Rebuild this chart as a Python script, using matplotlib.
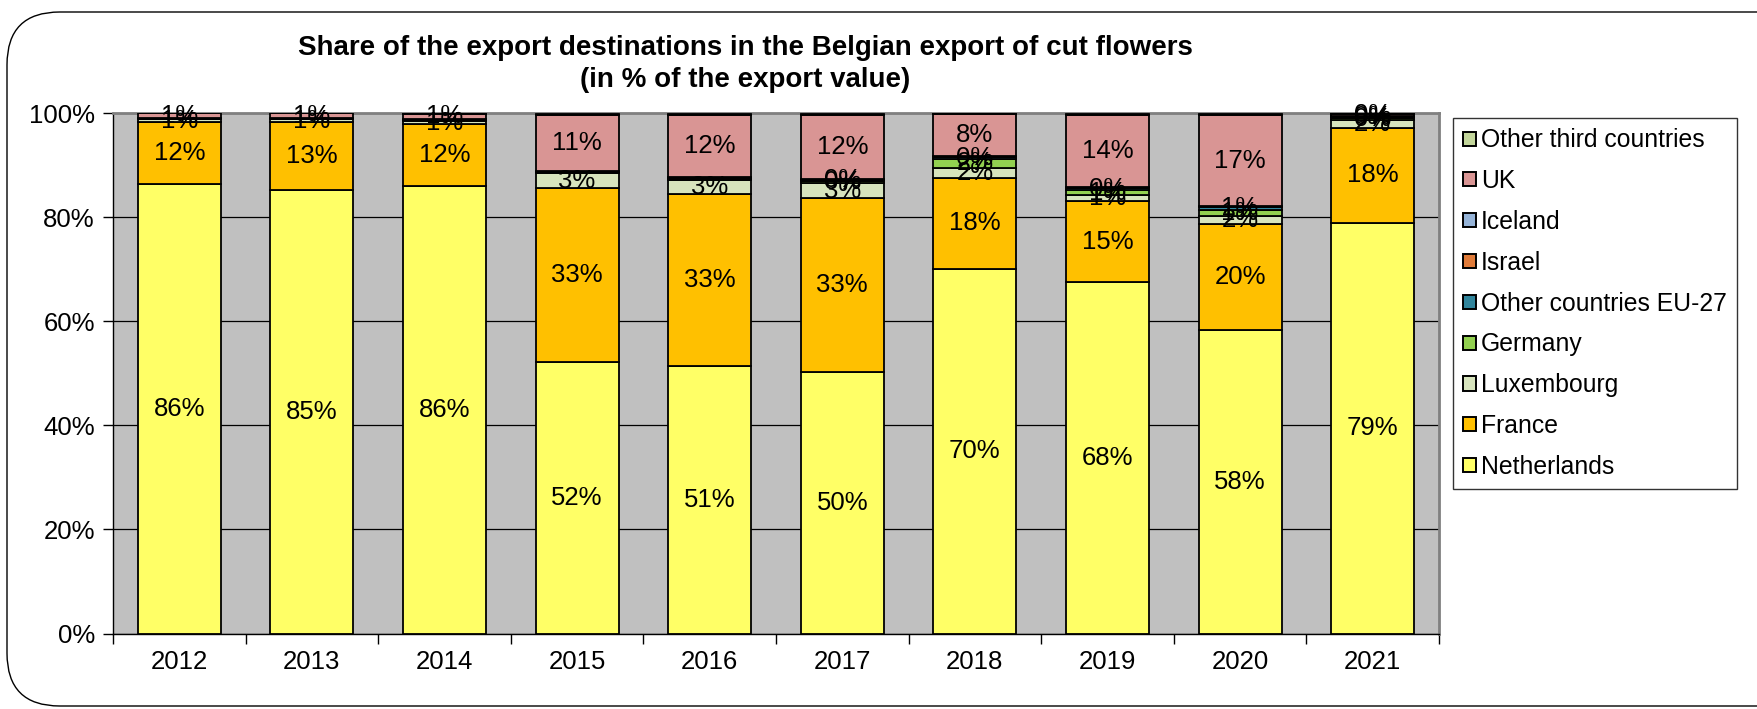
import numpy as np
import matplotlib
matplotlib.use("Agg")
import matplotlib.pyplot as plt
from matplotlib.patches import FancyBboxPatch

plt.rcParams["font.family"] = ["Liberation Sans", "DejaVu Sans"]

# shares in % of export value
years = ["2012", "2013", "2014", "2015", "2016", "2017", "2018", "2019", "2020", "2021"]
netherlands = [86.3, 85.3, 85.9, 52.2, 51.4, 50.3, 70.0, 67.6, 58.4, 78.9]
france = [11.9, 12.9, 11.9, 33.4, 33.0, 33.4, 17.6, 15.4, 20.2, 18.3]
luxembourg = [0.6, 0.6, 0.6, 2.8, 2.7, 2.8, 1.9, 1.2, 1.7, 1.5]
germany = [0.1, 0.1, 0.2, 0.2, 0.2, 0.4, 1.6, 1.0, 1.1, 0.3]
other_eu = [0.1, 0.1, 0.2, 0.2, 0.2, 0.3, 0.4, 0.4, 0.6, 0.3]
israel = [0.05, 0.05, 0.1, 0.1, 0.1, 0.1, 0.1, 0.1, 0.1, 0.1]
iceland = [0.0, 0.0, 0.0, 0.05, 0.05, 0.05, 0.05, 0.05, 0.05, 0.05]
uk = [0.9, 0.9, 1.0, 10.7, 12.0, 12.2, 8.1, 13.9, 17.4, 0.35]
other_third = [0.1, 0.1, 0.1, 0.2, 0.2, 0.2, 0.2, 0.2, 0.2, 0.2]

series = [
    ("Netherlands", netherlands, "#FFFF66"),
    ("France", france, "#FFC000"),
    ("Luxembourg", luxembourg, "#D7E4BD"),
    ("Germany", germany, "#92D050"),
    ("Other countries EU-27", other_eu, "#31859C"),
    ("Israel", israel, "#E07B39"),
    ("Iceland", iceland, "#95B3D7"),
    ("UK", uk, "#D99594"),
    ("Other third countries", other_third, "#C3D69B"),
]

W, H = 1758, 709
fig = plt.figure(figsize=(W / 100, H / 100), dpi=100)

# rounded frame around the whole chart (behind everything)
frame = FancyBboxPatch((7 / W, 3 / H), 1.2, 694 / H,
                       boxstyle="round,pad=0,rounding_size=0.03",
                       transform=fig.transFigure, facecolor="none",
                       edgecolor="black", linewidth=1.0, mutation_aspect=W / H,
                       zorder=-10)
fig.patches.append(frame)

ax = fig.add_axes([113 / W, 1 - 633.5 / H, 1326 / W, 520.5 / H])
ax.set_facecolor("#C0C0C0")

x = np.arange(len(years))
bottom = np.zeros(len(years))
handles = []
for name, vals, color in series:
    vals = np.array(vals)
    bars = ax.bar(x, vals, width=0.625, bottom=bottom, color=color,
                  edgecolor="black", linewidth=1.3, label=name, zorder=3)
    handles.append(bars)
    for xi, b, v in zip(x, bottom, vals):
        if v >= 0.25:
            ax.text(xi, b + v / 2, f"{v:.0f}%", ha="center", va="center",
                    fontsize=18.5, color="black", zorder=5)
    bottom += vals

ax.set_xlim(-0.5, len(years) - 0.5)
ax.set_ylim(0, 100)
ax.set_yticks(np.arange(0, 101, 20))
ax.set_yticklabels([f"{v}%" for v in range(0, 101, 20)], fontsize=18.5)
ax.yaxis.grid(True, color="black", linewidth=0.9, zorder=1)
ax.set_axisbelow(True)

ax.set_xticks(np.arange(-0.5, len(years), 1.0))
ax.set_xticklabels([])
ax.set_xticks(x, minor=True)
ax.set_xticklabels(years, minor=True, fontsize=18.5)
ax.tick_params(axis="x", which="major", length=7, width=1, color="black")
ax.tick_params(axis="x", which="minor", length=0, pad=12)
ax.tick_params(axis="y", length=7, width=1, pad=6)

for side in ["left", "bottom"]:
    ax.spines[side].set_color("black")
    ax.spines[side].set_linewidth(1.0)
for side in ["top", "right"]:
    ax.spines[side].set_color("#808080")
    ax.spines[side].set_linewidth(2.0)

fig.text(745 / W, 1 - 48 / H, "Share of the export destinations in the Belgian export of cut flowers",
         ha="center", va="center", fontsize=20, fontweight="bold")
fig.text(745 / W, 1 - 80 / H, "(in % of the export value)",
         ha="center", va="center", fontsize=20, fontweight="bold")

leg = fig.legend(handles[::-1], [s[0] for s in series][::-1],
                 loc="upper left", bbox_to_anchor=(1453 / W, 1 - 118 / H),
                 fontsize=17.8, frameon=True, fancybox=False,
                 handlelength=0.5, handleheight=0.5, handletextpad=0.2,
                 labelspacing=0.68, borderpad=0.42, borderaxespad=0)
leg.get_frame().set_edgecolor("black")
leg.get_frame().set_linewidth(1.0)
for p in leg.get_patches():
    p.set_linewidth(1.4)

fig.savefig("out.png", dpi=100)
